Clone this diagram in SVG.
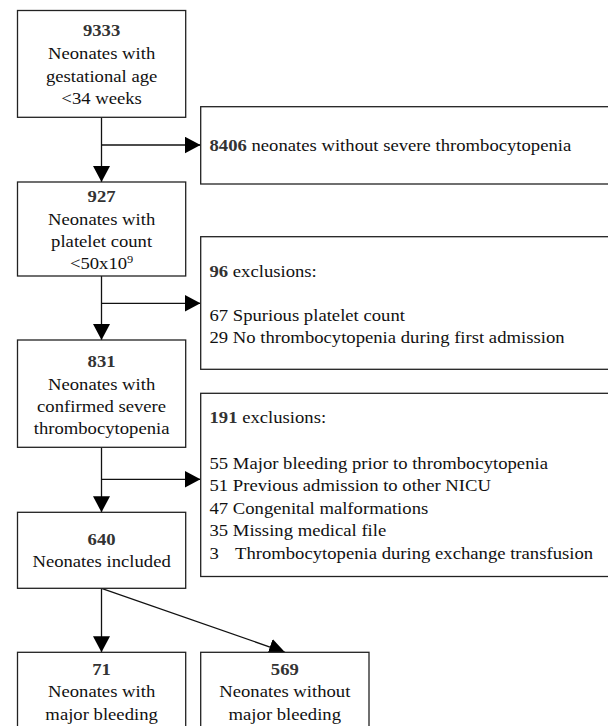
<svg xmlns="http://www.w3.org/2000/svg" width="608" height="726" viewBox="0 0 608 726">
<style>
.box{fill:#fff;stroke:#222;stroke-width:1.3}
.ln{fill:none;stroke:#111;stroke-width:1.3}
.t{font-family:"Liberation Serif","Times New Roman",serif;font-size:16.6px;fill:#111}
.c{text-anchor:middle}
.b{font-weight:bold;fill:#333}
</style>
<defs>
<marker id="ah" markerUnits="userSpaceOnUse" markerWidth="18" markerHeight="18" refX="16" refY="8.5" orient="auto">
<path d="M0,0 L16,8.5 L0,17 Z" fill="#000"/>
</marker>
</defs>
<rect width="608" height="726" fill="#fff"/>

<g id="connectors">
<line class="ln" x1="101.5" y1="117.3" x2="101.5" y2="182" marker-end="url(#ah)"/>
<line class="ln" x1="101.5" y1="145" x2="200.5" y2="145" marker-end="url(#ah)"/>
<line class="ln" x1="101.5" y1="276" x2="101.5" y2="340" marker-end="url(#ah)"/>
<line class="ln" x1="101.5" y1="303.3" x2="200.5" y2="303.3" marker-end="url(#ah)"/>
<line class="ln" x1="101.5" y1="447.3" x2="101.5" y2="512.3" marker-end="url(#ah)"/>
<line class="ln" x1="101.5" y1="479.3" x2="200.5" y2="479.3" marker-end="url(#ah)"/>
<line class="ln" x1="101.5" y1="588.3" x2="101.5" y2="652.3" marker-end="url(#ah)"/>
<line class="ln" x1="101.5" y1="588.3" x2="285" y2="652.3" marker-end="url(#ah)"/>
</g>

<g id="n9333">
<rect class="box" x="17.5" y="10.5" width="168.2" height="106.8"/>
<text class="t c b" transform="translate(101.6,36) scale(1.125,1)">9333</text>
<text class="t c" transform="translate(101.6,59.3) scale(1.125,1)">Neonates with</text>
<text class="t c" transform="translate(101.6,81.7) scale(1.125,1)">gestational age</text>
<text class="t c" transform="translate(101.6,104) scale(1.125,1)">&lt;34 weeks</text>
</g>

<g id="n8406">
<rect class="box" x="200.7" y="106.7" width="412" height="77.3"/>
<text class="t" transform="translate(209.5,151) scale(1.125,1)"><tspan class="b">8406</tspan> neonates without severe thrombocytopenia</text>
</g>

<g id="n927">
<rect class="box" x="17.5" y="182" width="168.2" height="94"/>
<text class="t c b" transform="translate(101.6,201.7) scale(1.125,1)">927</text>
<text class="t c" transform="translate(101.6,225) scale(1.125,1)">Neonates with</text>
<text class="t c" transform="translate(101.6,247.3) scale(1.125,1)">platelet count</text>
<text class="t c" transform="translate(101.6,269) scale(1.125,1)">&lt;50x10<tspan font-size="11" dy="-6">9</tspan></text>
</g>

<g id="n96">
<rect class="box" x="200.7" y="236.7" width="412" height="132.6"/>
<text class="t" transform="translate(209.5,276.7) scale(1.125,1)"><tspan class="b">96</tspan> exclusions:</text>
<text class="t" transform="translate(209.5,321) scale(1.125,1)">67 Spurious platelet count</text>
<text class="t" transform="translate(209.5,343.3) scale(1.125,1)">29 No thrombocytopenia during first admission</text>
</g>

<g id="n831">
<rect class="box" x="17.5" y="340" width="168.2" height="107.3"/>
<text class="t c b" transform="translate(101.6,367.3) scale(1.125,1)">831</text>
<text class="t c" transform="translate(101.6,390) scale(1.125,1)">Neonates with</text>
<text class="t c" transform="translate(101.6,411.7) scale(1.125,1)">confirmed severe</text>
<text class="t c" transform="translate(101.6,434) scale(1.125,1)">thrombocytopenia</text>
</g>

<g id="n191">
<rect class="box" x="200.7" y="393.3" width="412" height="183.2"/>
<text class="t" transform="translate(209.5,423) scale(1.125,1)"><tspan class="b">191</tspan> exclusions:</text>
<text class="t" transform="translate(209.5,468.5) scale(1.125,1)">55 Major bleeding prior to thrombocytopenia</text>
<text class="t" transform="translate(209.5,491) scale(1.125,1)">51 Previous admission to other NICU</text>
<text class="t" transform="translate(209.5,513.5) scale(1.125,1)">47 Congenital malformations</text>
<text class="t" transform="translate(209.5,536) scale(1.125,1)">35 Missing medical file</text>
<text class="t" transform="translate(209.5,558.5) scale(1.125,1)">3</text>
<text class="t" transform="translate(235,558.5) scale(1.125,1)">Thrombocytopenia during exchange transfusion</text>
</g>

<g id="n640">
<rect class="box" x="17.5" y="512.3" width="168.2" height="76"/>
<text class="t c b" transform="translate(101.6,545) scale(1.125,1)">640</text>
<text class="t c" transform="translate(101.6,567.3) scale(1.125,1)">Neonates included</text>
</g>

<g id="n71">
<rect class="box" x="17.5" y="652.3" width="168.2" height="80"/>
<text class="t c b" transform="translate(101.6,675) scale(1.125,1)">71</text>
<text class="t c" transform="translate(101.6,697.3) scale(1.125,1)">Neonates with</text>
<text class="t c" transform="translate(101.6,720) scale(1.125,1)">major bleeding</text>
</g>

<g id="n569">
<rect class="box" x="200.7" y="652.3" width="168.3" height="80"/>
<text class="t c b" transform="translate(284.8,675) scale(1.125,1)">569</text>
<text class="t c" transform="translate(284.8,697.3) scale(1.125,1)">Neonates without</text>
<text class="t c" transform="translate(284.8,720) scale(1.125,1)">major bleeding</text>
</g>
</svg>
